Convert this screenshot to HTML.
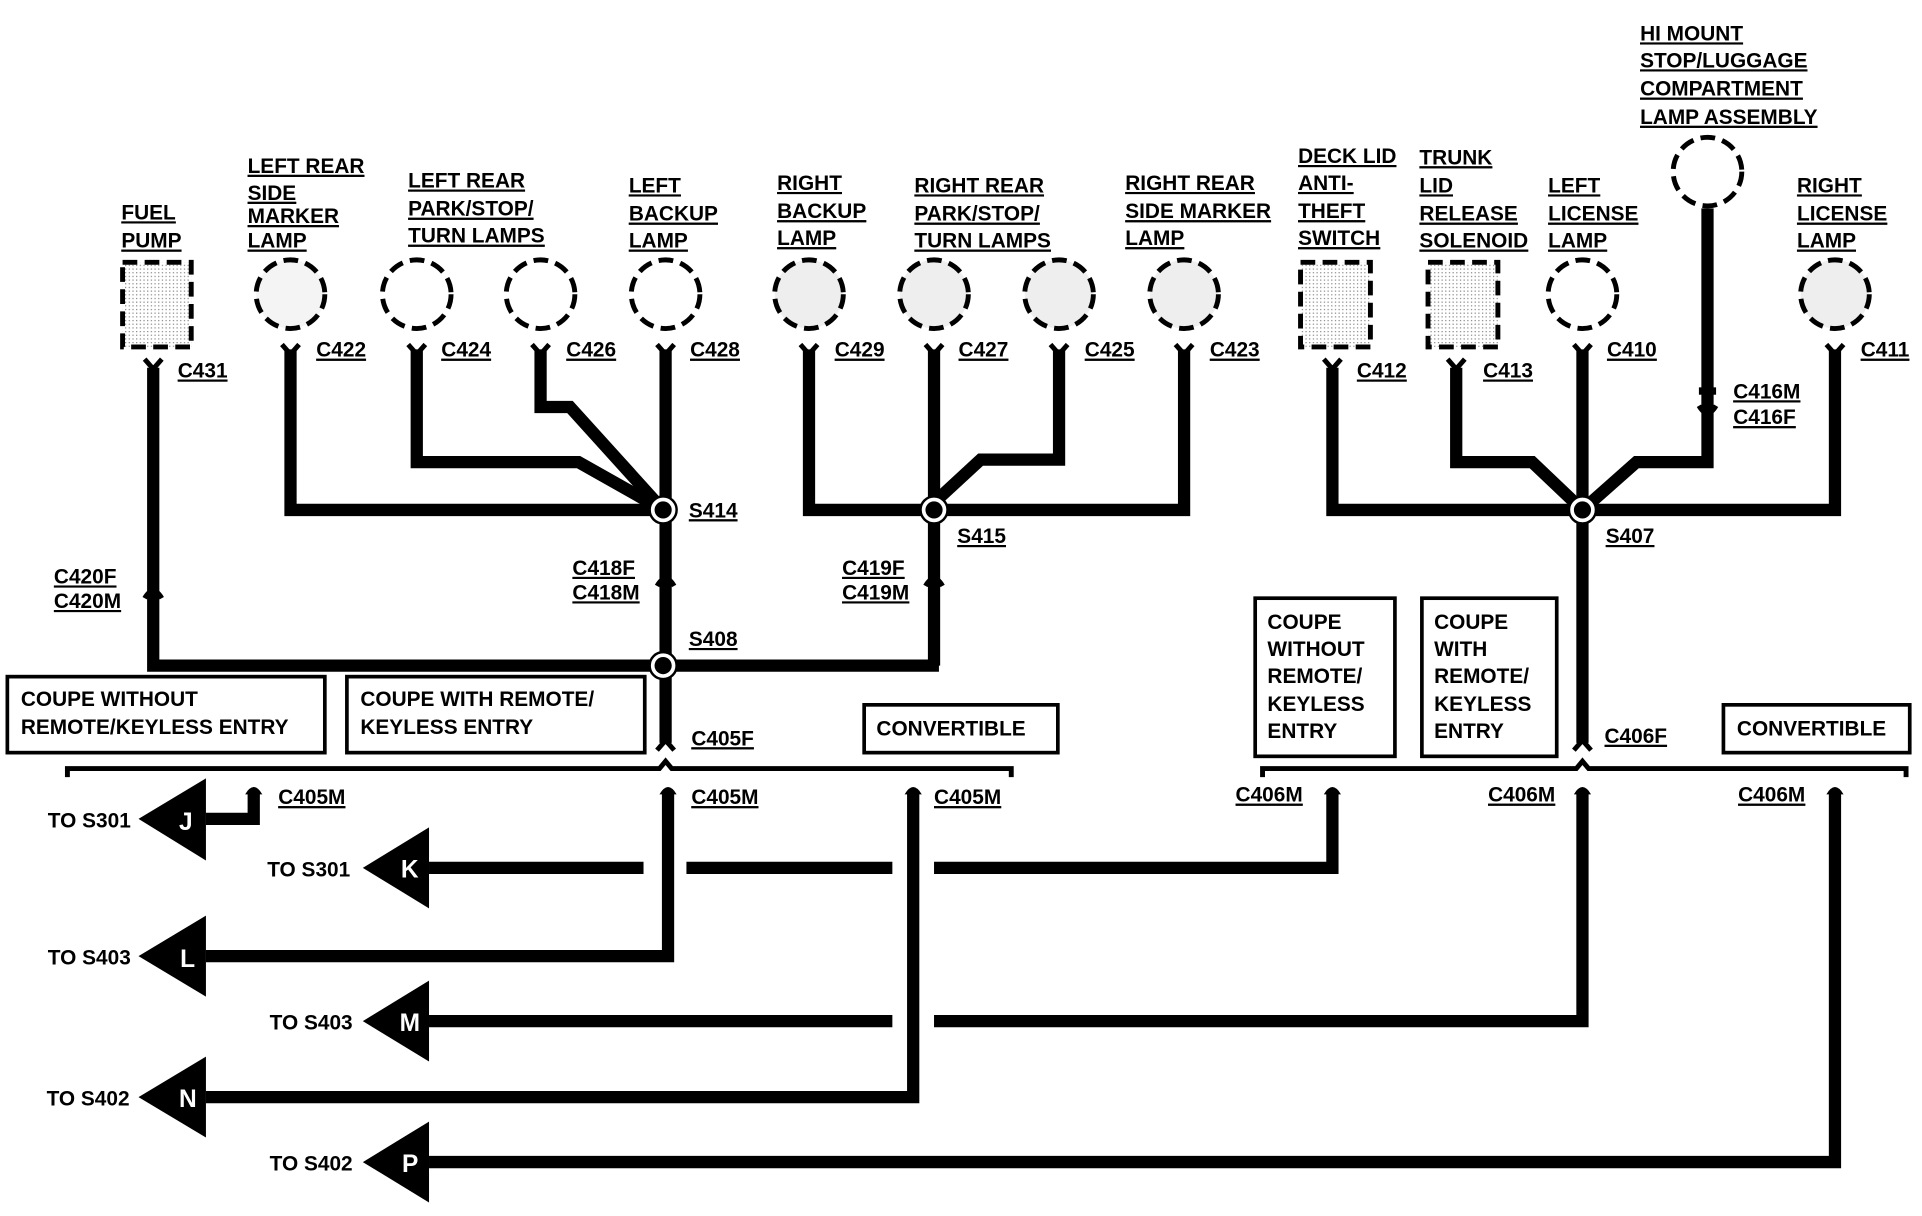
<!DOCTYPE html>
<html><head><meta charset="utf-8"><style>
html,body{margin:0;padding:0;background:#fff;}
svg{display:block;}
text{font-family:"Liberation Sans",sans-serif;font-weight:bold;font-size:17px;fill:#000;}
.u{text-decoration:underline;}
.w{fill:#fff;font-size:20px;}
</style></head><body>
<svg width="1922" height="1216" viewBox="0 0 1568 992" preserveAspectRatio="none" xmlns="http://www.w3.org/2000/svg">
<defs>
<pattern id="dots" width="3" height="3" patternUnits="userSpaceOnUse"><rect width="3" height="3" fill="#fff"/><rect width="1" height="1" fill="#888"/></pattern>
</defs>
<g fill="none" stroke="#000" stroke-width="4" stroke-dasharray="12,6">
<rect x="100" y="214" width="56" height="69" fill="url(#dots)"/>
<rect x="1061" y="214" width="57" height="69" fill="url(#dots)"/>
<rect x="1165" y="214" width="57" height="69" fill="url(#dots)"/>
<circle cx="237" cy="240" r="28" fill="#f4f4f4"/>
<circle cx="340" cy="240" r="28"/>
<circle cx="441" cy="240" r="28"/>
<circle cx="543" cy="240" r="28"/>
<circle cx="660" cy="240" r="28" fill="#eee"/>
<circle cx="762" cy="240" r="28" fill="#eee"/>
<circle cx="864" cy="240" r="28" fill="#eee"/>
<circle cx="966" cy="240" r="28" fill="#eee"/>
<circle cx="1291" cy="240" r="28"/>
<circle cx="1497" cy="240" r="28" fill="#eee"/>
<circle cx="1393" cy="140" r="28"/>
</g>
<g fill="none" stroke="#000" stroke-width="10" stroke-linejoin="miter">
<path d="M125 300 V543 H766"/>
<path d="M237 285 V416 H541"/>
<path d="M340 285 V377 H472 L541 416"/>
<path d="M441 285 V332 H465 L541 416"/>
<path d="M543 285 V606"/>
<path d="M660 285 V416 H966 V285"/>
<path d="M762 285 V543"/>
<path d="M864 285 V375 H800 L762 410"/>
<path d="M1087 300 V416 H1497 V285"/>
<path d="M1188 300 V377 H1250 L1291 416"/>
<path d="M1291 285 V606"/>
<path d="M1393 170 V377 H1335 L1291 416"/>
<path d="M207 645 V668 H168"/>
<path d="M350 708 H525 M560 708 H728 M762 708 H1087 V645"/>
<path d="M168 780 H545 V645"/>
<path d="M350 833 H728 M762 833 H1291 V645"/>
<path d="M168 895 H745 V645"/>
<path d="M350 948 H1497 V645"/>
</g>
<g fill="none" stroke="#000" stroke-width="4">
<path d="M118 293 L125 301 L132 293"/><path d="M230 281 L237 289 L244 281"/><path d="M333 281 L340 289 L347 281"/><path d="M434 281 L441 289 L448 281"/><path d="M536 281 L543 289 L550 281"/><path d="M653 281 L660 289 L667 281"/><path d="M755 281 L762 289 L769 281"/><path d="M857 281 L864 289 L871 281"/><path d="M959 281 L966 289 L973 281"/><path d="M1080 293 L1087 301 L1094 293"/><path d="M1181 293 L1188 301 L1195 293"/><path d="M1284 281 L1291 289 L1298 281"/><path d="M1490 281 L1497 289 L1504 281"/>
<path d="M118 488 Q125 476 132 488"/><path d="M536 478 Q543 466 550 478"/><path d="M755 478 Q762 466 769 478"/><path d="M1386 331 Q1393 343 1400 331"/>
<path d="M536 612 L543 604 L550 612"/><path d="M1284 612 L1291 604 L1298 612"/>
<path d="M55 634 V627 H538 L543 621 L548 627 H825 V634"/>
<path d="M1030 634 V627 H1286 L1291 621 L1296 627 H1555 V634"/>
<rect x="6" y="552" width="259" height="62" stroke-width="3"/>
<rect x="283" y="552" width="243" height="62" stroke-width="3"/>
<rect x="705" y="575" width="158" height="39" stroke-width="3"/>
<rect x="1024" y="488" width="114" height="129" stroke-width="3"/>
<rect x="1160" y="488" width="110" height="129" stroke-width="3"/>
<rect x="1406" y="575" width="152" height="39" stroke-width="3"/>
</g>
<g fill="#000">
<rect x="1386" y="316" width="14" height="6"/>
<path d="M200 648 Q207 636 214 648Z"/><path d="M538 648 Q545 636 552 648Z"/><path d="M738 648 Q745 636 752 648Z"/><path d="M1080 648 Q1087 636 1094 648Z"/><path d="M1284 648 Q1291 636 1298 648Z"/><path d="M1490 648 Q1497 636 1504 648Z"/>
<polygon points="113,668 168,635 168,702"/><polygon points="296,708 350,675 350,741"/><polygon points="113,780 168,747 168,813"/><polygon points="296,833 350,800 350,866"/><polygon points="113,895 168,862 168,928"/><polygon points="296,948 350,915 350,981"/>
</g>
<g>
<circle cx="541" cy="416" r="11" fill="#fff" stroke="#000" stroke-width="2"/><circle cx="541" cy="416" r="7"/>
<circle cx="762" cy="416" r="11" fill="#fff" stroke="#000" stroke-width="2"/><circle cx="762" cy="416" r="7"/>
<circle cx="1291" cy="416" r="11" fill="#fff" stroke="#000" stroke-width="2"/><circle cx="1291" cy="416" r="7"/>
<circle cx="541" cy="543" r="11" fill="#fff" stroke="#000" stroke-width="2"/><circle cx="541" cy="543" r="7"/>
</g>
<g class="u">
<text x="99" y="179" class="u">FUEL</text><text x="99" y="202" class="u">PUMP</text>
<text x="202" y="141" class="u">LEFT REAR</text><text x="202" y="163" class="u">SIDE</text><text x="202" y="182" class="u">MARKER</text><text x="202" y="202" class="u">LAMP</text>
<text x="333" y="153" class="u">LEFT REAR</text><text x="333" y="176" class="u">PARK/STOP/</text><text x="333" y="198" class="u">TURN LAMPS</text>
<text x="513" y="157" class="u">LEFT</text><text x="513" y="180" class="u">BACKUP</text><text x="513" y="202" class="u">LAMP</text>
<text x="634" y="155" class="u">RIGHT</text><text x="634" y="178" class="u">BACKUP</text><text x="634" y="200" class="u">LAMP</text>
<text x="746" y="157" class="u">RIGHT REAR</text><text x="746" y="180" class="u">PARK/STOP/</text><text x="746" y="202" class="u">TURN LAMPS</text>
<text x="918" y="155" class="u">RIGHT REAR</text><text x="918" y="178" class="u">SIDE MARKER</text><text x="918" y="200" class="u">LAMP</text>
<text x="1059" y="133" class="u">DECK LID</text><text x="1059" y="155" class="u">ANTI-</text><text x="1059" y="178" class="u">THEFT</text><text x="1059" y="200" class="u">SWITCH</text>
<text x="1158" y="134" class="u">TRUNK</text><text x="1158" y="157" class="u">LID</text><text x="1158" y="180" class="u">RELEASE</text><text x="1158" y="202" class="u">SOLENOID</text>
<text x="1263" y="157" class="u">LEFT</text><text x="1263" y="180" class="u">LICENSE</text><text x="1263" y="202" class="u">LAMP</text>
<text x="1338" y="33" class="u">HI MOUNT</text><text x="1338" y="55" class="u">STOP/LUGGAGE</text><text x="1338" y="78" class="u">COMPARTMENT</text><text x="1338" y="101" class="u">LAMP ASSEMBLY</text>
<text x="1466" y="157" class="u">RIGHT</text><text x="1466" y="180" class="u">LICENSE</text><text x="1466" y="202" class="u">LAMP</text>
<text x="145" y="308" class="u">C431</text><text x="258" y="291" class="u">C422</text><text x="360" y="291" class="u">C424</text><text x="462" y="291" class="u">C426</text><text x="563" y="291" class="u">C428</text><text x="681" y="291" class="u">C429</text><text x="782" y="291" class="u">C427</text><text x="885" y="291" class="u">C425</text><text x="987" y="291" class="u">C423</text>
<text x="1107" y="308" class="u">C412</text><text x="1210" y="308" class="u">C413</text><text x="1311" y="291" class="u">C410</text><text x="1518" y="291" class="u">C411</text>
<text x="1414" y="325" class="u">C416M</text><text x="1414" y="346" class="u">C416F</text>
<text x="562" y="422" class="u">S414</text><text x="781" y="443" class="u">S415</text><text x="1310" y="443" class="u">S407</text><text x="562" y="527" class="u">S408</text>
<text x="44" y="476" class="u">C420F</text><text x="44" y="496" class="u">C420M</text>
<text x="467" y="469" class="u">C418F</text><text x="467" y="489" class="u">C418M</text>
<text x="687" y="469" class="u">C419F</text><text x="687" y="489" class="u">C419M</text>
<text x="564" y="608" class="u">C405F</text><text x="1309" y="606" class="u">C406F</text>
<text x="227" y="656" class="u">C405M</text><text x="564" y="656" class="u">C405M</text><text x="762" y="656" class="u">C405M</text>
<text x="1008" y="654" class="u">C406M</text><text x="1214" y="654" class="u">C406M</text><text x="1418" y="654" class="u">C406M</text>
</g>
<text x="17" y="576">COUPE WITHOUT</text><text x="17" y="599">REMOTE/KEYLESS ENTRY</text>
<text x="294" y="576">COUPE WITH REMOTE/</text><text x="294" y="599">KEYLESS ENTRY</text>
<text x="715" y="600">CONVERTIBLE</text><text x="1417" y="600">CONVERTIBLE</text>
<text x="1034" y="513">COUPE</text><text x="1034" y="535">WITHOUT</text><text x="1034" y="557">REMOTE/</text><text x="1034" y="580">KEYLESS</text><text x="1034" y="602">ENTRY</text>
<text x="1170" y="513">COUPE</text><text x="1170" y="535">WITH</text><text x="1170" y="557">REMOTE/</text><text x="1170" y="580">KEYLESS</text><text x="1170" y="602">ENTRY</text>
<text x="39" y="675">TO S301</text><text x="218" y="715">TO S301</text><text x="39" y="787">TO S403</text><text x="220" y="840">TO S403</text><text x="38" y="902">TO S402</text><text x="220" y="955">TO S402</text>
<text x="146" y="677" class="w">J</text><text x="327" y="716" class="w">K</text><text x="147" y="789" class="w">L</text><text x="326" y="841" class="w">M</text><text x="146" y="903" class="w">N</text><text x="328" y="956" class="w">P</text>
</svg>
</body></html>
